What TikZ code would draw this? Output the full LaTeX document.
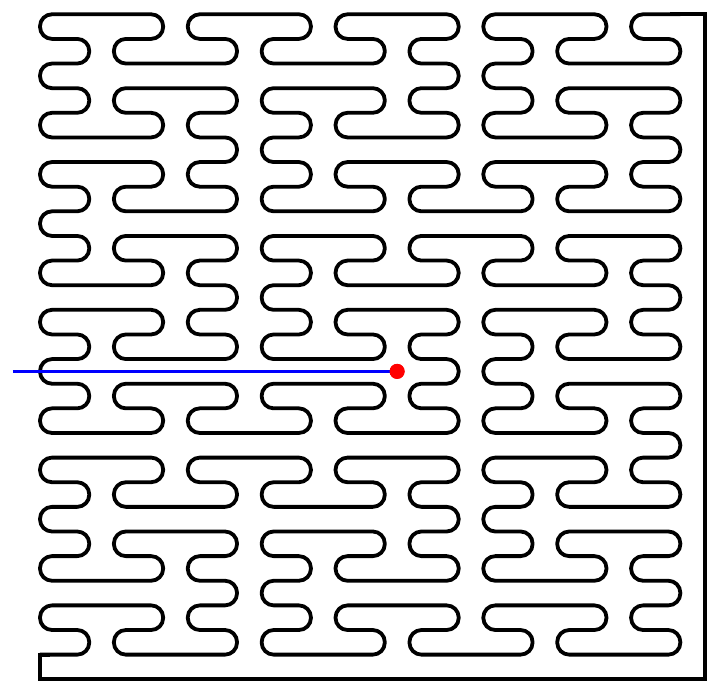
\documentclass[tikz,border=0pt]{standalone}
\newcount\pnox \newcount\pnoy \newcount\pnodx \newcount\pnody \newcount\pnotmp
\pnodx=1 \pnody=0 \pnox=0 \pnoy=0
\def\pnopath{(0,0)}
\def\pnoF{\global\advance\pnox by\pnodx \global\advance\pnoy by\pnody \xdef\pnopath{\pnopath -- (\the\pnox,\the\pnoy)}}
\def\pnoL{\global\pnotmp=\pnodx \global\pnodx=-\pnody \global\pnody=\pnotmp}
\def\pnoR{\global\pnotmp=\pnodx \global\pnodx=\pnody \global\pnody=-\pnotmp}
\def\pnoMk#1#2#3#4{%
  \def#1{#3\pnoF#4\pnoF#3\pnoL\pnoF\pnoL#4\pnoF#3\pnoF#4\pnoR\pnoF\pnoR#3\pnoF#4\pnoF#3}%
  \def#2{#4\pnoF#3\pnoF#4\pnoR\pnoF\pnoR#3\pnoF#4\pnoF#3\pnoL\pnoF\pnoL#4\pnoF#3\pnoF#4}}
\def\pnoXo{}\def\pnoYo{}
\pnoMk\pnoXi\pnoYi\pnoXo\pnoYo
\pnoMk\pnoXii\pnoYii\pnoXi\pnoYi
\pnoMk\pnoXiii\pnoYiii\pnoXii\pnoYii
\pnoXiii
\def\pnodraw#1{\draw[curve] #1;}
\begin{document}
\begin{tikzpicture}[x=24.63pt,y=24.63pt,
  curve/.style={line width=3.8pt, rounded corners=12pt, line join=round},
  frame/.style={line width=3.8pt, line join=miter},
  ray/.style={blue, line width=3pt},
  dot/.style={circle, fill=red, minimum size=15pt, inner sep=0pt}]
\useasboundingbox (-1.624,-1.597) rectangle (27.61,26.58);
\coordinate (start) at (0,0);
\coordinate (end) at (26,26);
\coordinate (rayend) at (-1.1,11.5);
\expandafter\pnodraw\expandafter{\pnopath}
\draw[frame] ([xshift=-10pt]end) -- ++(1.4,0) |- ([yshift=-24.63pt]start) -- (start) -- ++(0.4,0);
\node[dot] (pt) at (14.5,11.5) {};
\draw[ray] (rayend) -- (pt.center);
\node[dot] at (pt) {};
\end{tikzpicture}
\end{document}
